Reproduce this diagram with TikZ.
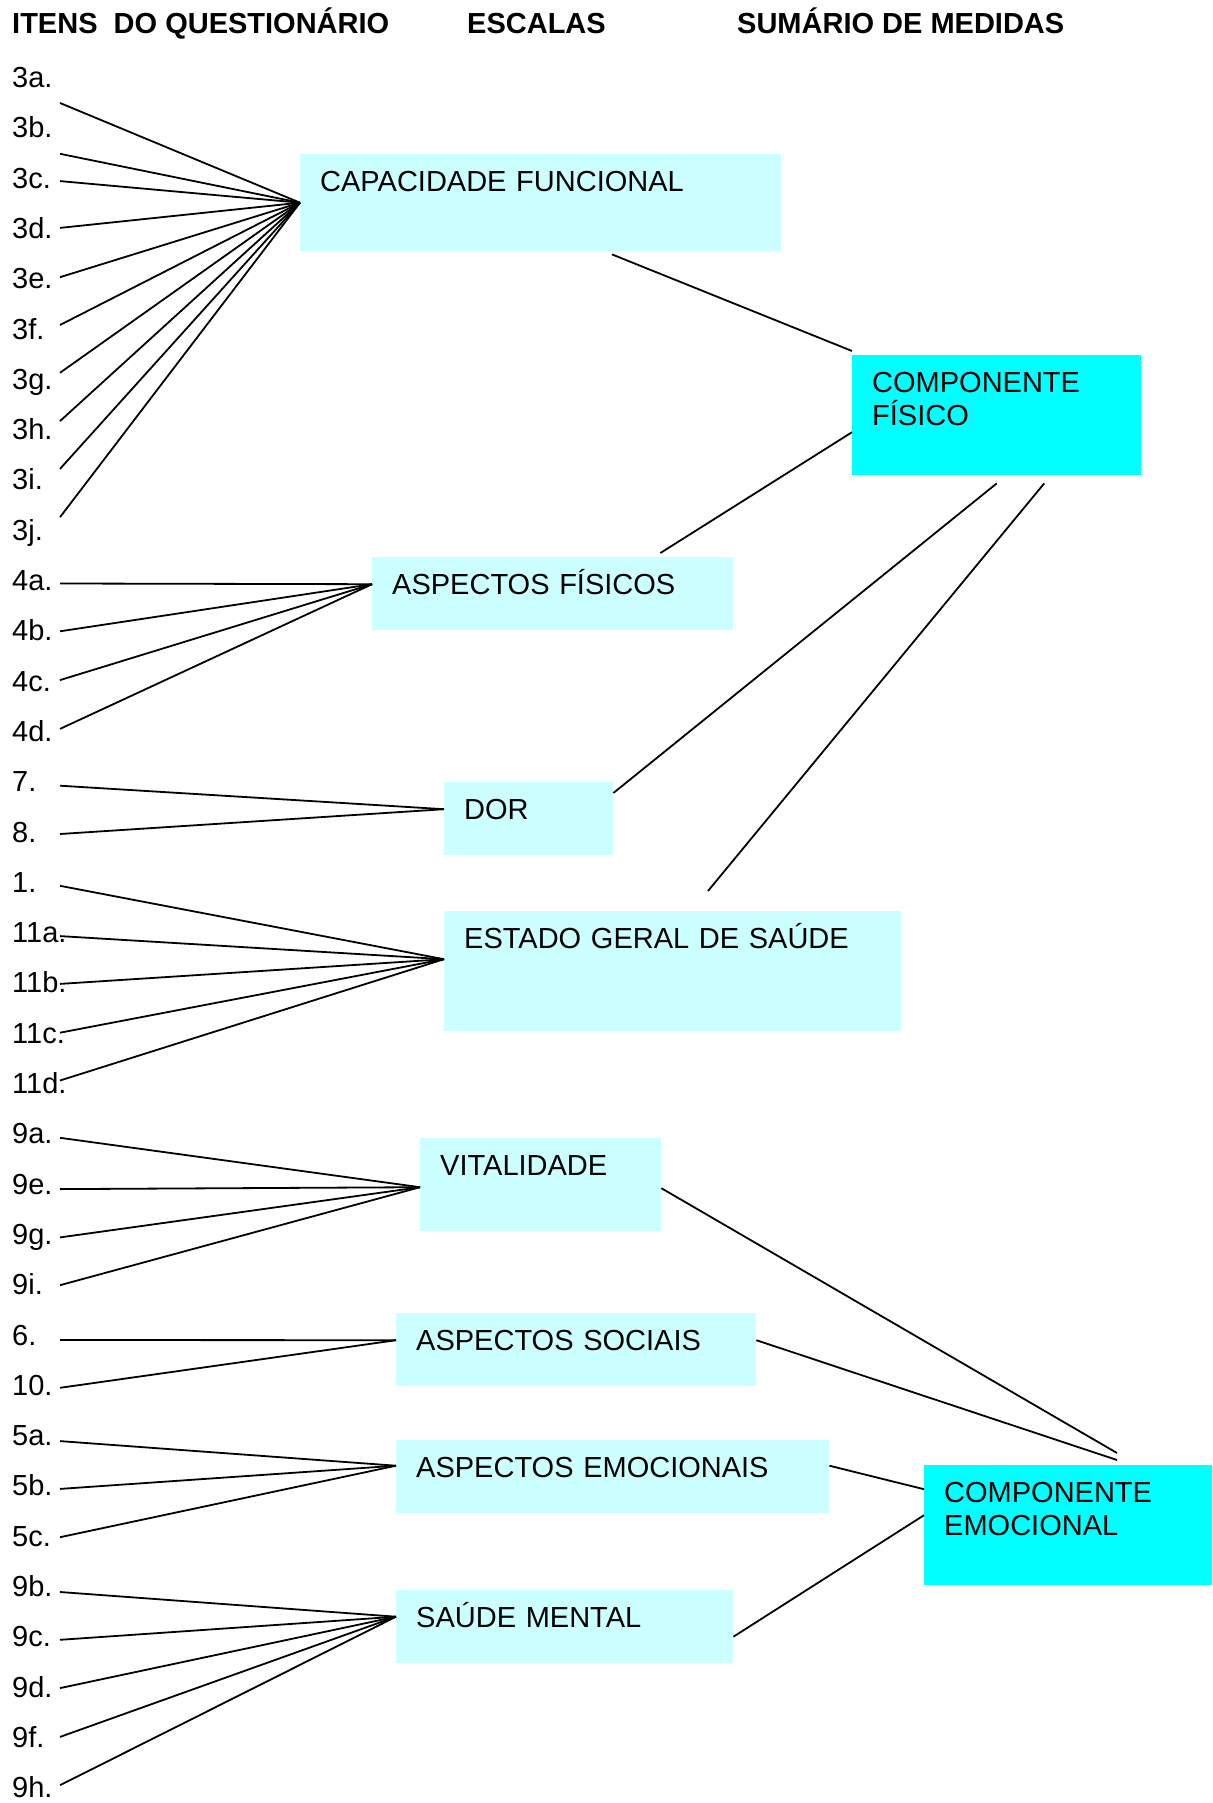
\documentclass[tikz,border=0pt]{standalone}
\usepackage{fontspec}
\setmainfont{Liberation Sans}
\usetikzlibrary{positioning,calc}
\definecolor{escala}{HTML}{CCFFFF}
\definecolor{componente}{HTML}{00FFFF}

\begin{document}
\begin{tikzpicture}[
    x=1pt, y=-1pt,
    font=\fontsize{29}{33}\selectfont,
    titulo/.style={anchor=base west, inner sep=0pt, font=\fontsize{29}{33}\selectfont\bfseries},
    item/.style={anchor=base west, inner sep=0pt},
    caixa/.style={rectangle, anchor=north west, fill=escala, inner xsep=20pt, inner ysep=0pt, align=left, text height=37pt},
    comp/.style={caixa, fill=componente},
    linha/.style={line width=1.8pt},
]
    \useasboundingbox (0,0) rectangle (1212,1803);

    \node[titulo] (h1) at (12,34) {ITENS\ \ DO QUESTIONÁRIO};
    \node[titulo] (h2) at (467,34) {ESCALAS};
    \node[titulo] (h3) at (737,34) {SUMÁRIO DE MEDIDAS};

    \foreach \q [count=\n from 0] in {3a,3b,3c,3d,3e,3f,3g,3h,3i,3j,4a,4b,4c,4d,7,8,1,11a,11b,11c,11d,9a,9e,9g,9i,6,10,5a,5b,5c,9b,9c,9d,9f,9h}
        \node[item] (i\q) at (12, {87.5+50.3*\n}) {\q.};

    \node[caixa, text width=441pt, text depth=60pt] (cf) at (300,154) {CAPACIDADE FUNCIONAL};
    \node[caixa, text width=321pt, text depth=36pt] (af) at (372,557) {ASPECTOS FÍSICOS};
    \node[caixa, text width=129pt, text depth=36pt] (dor) at (444,782) {DOR};
    \node[caixa, text width=417pt, text depth=83pt] (eg) at (444,911) {ESTADO GERAL DE SAÚDE};
    \node[caixa, text width=201pt, text depth=56pt] (vit) at (420,1138) {VITALIDADE};
    \node[caixa, text width=320pt, text depth=36pt] (as) at (396,1313) {ASPECTOS SOCIAIS};
    \node[caixa, text width=393pt, text depth=36pt] (ae) at (396,1440) {ASPECTOS EMOCIONAIS};
    \node[caixa, text width=297pt, text depth=36pt] (sm) at (396,1590) {SAÚDE MENTAL};

    \node[comp, text width=249pt, text depth=83pt] (cfis) at (852,355) {COMPONENTE\\FÍSICO};
    \node[comp, text width=248pt, text depth=83pt] (ce) at (924,1465) {COMPONENTE\\EMOCIONAL};

    \coordinate (cf-in) at (cf.west);
    \coordinate (af-in) at ([yshift=9.5pt]af.west);
    \coordinate (dor-in) at ([yshift=9.5pt]dor.west);
    \coordinate (eg-in) at ([yshift=12pt]eg.west);
    \coordinate (vit-in) at ([yshift=-2.5pt]vit.west);
    \coordinate (as-in) at ([yshift=9.5pt]as.west);
    \coordinate (ae-in) at ([yshift=11pt]ae.west);
    \coordinate (sm-in) at ([yshift=10pt]sm.west);

    \foreach \q/\dy/\esc in {3a/-15.5/cf, 3b/-16/cf, 3c/7/cf, 3d/10.5/cf, 3e/11.5/cf, 3f/14/cf, 3g/16.5/cf, 3h/18.5/cf, 3i/21/cf, 3j/23/cf,
            4a/7/af, 4b/9.5/af, 4c/11/af, 4d/12.5/af,
            7/6/dor, 8/8/dor,
            1/6.5/eg, 11a/6.5/eg, 11b/9/eg, 11c/10.5/eg, 11d/13/eg,
            9a/6/vit, 9e/5/vit, 9g/7/vit, 9i/9.5/vit,
            6/5/as, 10/7.5/as,
            5a/4.5/ae, 5b/7/ae, 5c/9/ae,
            9b/4.5/sm, 9c/7/sm, 9d/9/sm, 9f/10.5/sm, 9h/12.5/sm}
        \draw[linha] ([xshift=48pt,yshift=\dy pt]i\q.base west) -- (\esc-in);

    \draw[linha] ([xshift=312pt,yshift=-3pt]cf.south west) -- ([yshift=4pt]cfis.north west);
    \draw[linha] ([xshift=-73pt,yshift=4pt]af.north east) -- ([yshift=-17pt]cfis.west);
    \draw[linha] ([yshift=-11pt]dor.north east) -- ([yshift=-8pt]cfis.south);
    \draw[linha] ([xshift=264pt,yshift=20pt]eg.north west) -- ([xshift=47.5pt,yshift=-8pt]cfis.south);

    \draw[linha] ([yshift=-3.5pt]vit.east) -- ([xshift=193pt,yshift=12pt]ce.north west);
    \draw[linha] ([yshift=9.5pt]as.east) -- ([xshift=193pt,yshift=5pt]ce.north west);
    \draw[linha] ([yshift=11pt]ae.east) -- ([yshift=36pt]ce.west);
    \draw[linha] ([yshift=-10pt]sm.east) -- ([yshift=10pt]ce.west);
\end{tikzpicture}
\end{document}
